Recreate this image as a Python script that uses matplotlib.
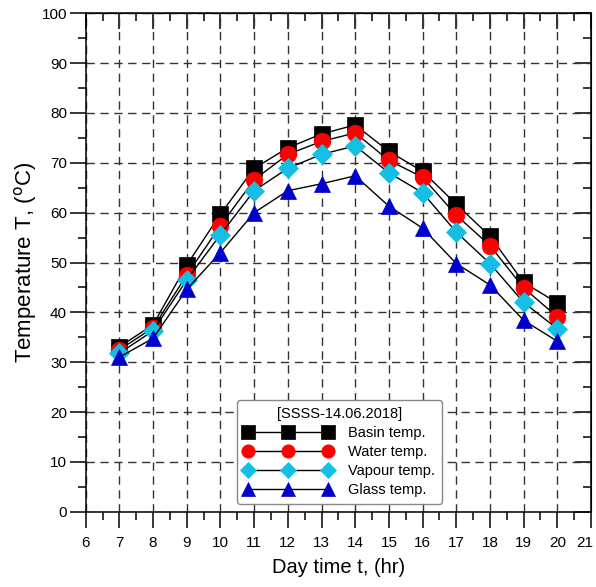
import matplotlib
matplotlib.use("Agg")
import matplotlib.pyplot as plt
from matplotlib.ticker import MultipleLocator
import matplotlib.transforms as mtransforms

plt.rcParams['font.family'] = ['Liberation Sans', 'DejaVu Sans']

hours = [7, 8, 9, 10, 11, 12, 13, 14, 15, 16, 17, 18, 19, 20]
basin = [33.1, 37.5, 49.5, 59.7, 68.9, 73.0, 75.8, 77.6, 72.3, 68.3, 61.7, 55.3, 46.0, 41.9]
water = [32.5, 36.9, 47.5, 57.4, 66.6, 71.7, 74.3, 76.0, 70.5, 67.1, 59.5, 53.4, 44.9, 39.1]
vapour = [31.8, 36.3, 46.5, 55.6, 64.4, 68.9, 71.7, 73.4, 68.0, 64.0, 56.1, 49.8, 42.0, 36.7]
glass = [31.0, 34.8, 44.6, 52.0, 60.0, 64.4, 65.8, 67.4, 61.3, 56.9, 49.8, 45.5, 38.4, 34.2]

series = [
    ("Basin temp.", basin, 's', 'black', 12),
    ("Water temp.", water, 'o', '#FF0000', 12),
    ("Vapour temp.", vapour, 'D', '#14BFE3', 10),
    ("Glass temp.", glass, '^', '#0000CC', 12),
]

fig = plt.figure(figsize=(5.96, 5.87), dpi=100)
ax = fig.add_axes([0.1438, 0.1283, 0.9916 - 0.1438, 0.9773 - 0.1283])

for label, vals, mk, col, ms in series:
    ax.plot(hours, vals, color='black', lw=1.0, marker=mk, markersize=ms,
            markerfacecolor=col, markeredgecolor=col, markeredgewidth=0.5,
            label=label, zorder=3)

ax.set_xlim(6, 21)
ax.set_ylim(0, 100)
ax.xaxis.set_major_locator(MultipleLocator(1))
ax.xaxis.set_minor_locator(MultipleLocator(0.5))
ax.yaxis.set_major_locator(MultipleLocator(10))
ax.yaxis.set_minor_locator(MultipleLocator(5))

ax.tick_params(axis='both', which='major', length=11.5, width=1.1, labelsize=11)
ax.tick_params(axis='both', which='minor', length=6, width=1.1)
ax.tick_params(axis='x', which='both', direction='out', bottom=True, top=False, pad=6)
ax.tick_params(axis='y', which='both', direction='out', left=True, right=False, pad=2)

# inward ticks on top and right
axt = ax.secondary_xaxis('top')
axt.xaxis.set_major_locator(MultipleLocator(1))
axt.xaxis.set_minor_locator(MultipleLocator(0.5))
axt.tick_params(which='major', direction='in', length=11.5, width=1.1, labeltop=False)
axt.tick_params(which='minor', direction='in', length=6, width=1.1)
axr = ax.secondary_yaxis('right')
axr.yaxis.set_major_locator(MultipleLocator(10))
axr.yaxis.set_minor_locator(MultipleLocator(5))
axr.tick_params(which='major', direction='in', length=11.5, width=1.1, labelright=False)
axr.tick_params(which='minor', direction='in', length=6, width=1.1)

for sp in ax.spines.values():
    sp.set_linewidth(1.1)

ax.grid(True, which='major', color='#333333', lw=1.0, linestyle=(0, (6, 4)))
ax.set_axisbelow(True)

ax.set_xlabel("Day time t, (hr)", fontsize=14.5, labelpad=6)
ax.set_ylabel("Temperature T, ($^{\\mathrm{o}}$C)", fontsize=16, labelpad=2)

fig.canvas.draw()
# keep last x tick label ("21") inside the image
for lbl in ax.get_xticklabels():
    if lbl.get_text() == '21':
        lbl.set_transform(lbl.get_transform() +
                          mtransforms.ScaledTranslation(-6 / 100, 0, fig.dpi_scale_trans))

leg = ax.legend(loc='upper left', bbox_to_anchor=(236.7 / 596, 1 - 400 / 587),
                bbox_transform=fig.transFigure, borderaxespad=0, numpoints=3,
                fontsize=10.5, title="[SSSS-14.06.2018]", title_fontsize=10.5,
                markerscale=0.8, handlelength=6.1, handletextpad=1.1,
                labelspacing=0.35, borderpad=0.45, fancybox=True,
                framealpha=1, edgecolor='#888888')
leg.get_frame().set_linewidth(1.0)

fig.savefig("out.png", dpi=100)
